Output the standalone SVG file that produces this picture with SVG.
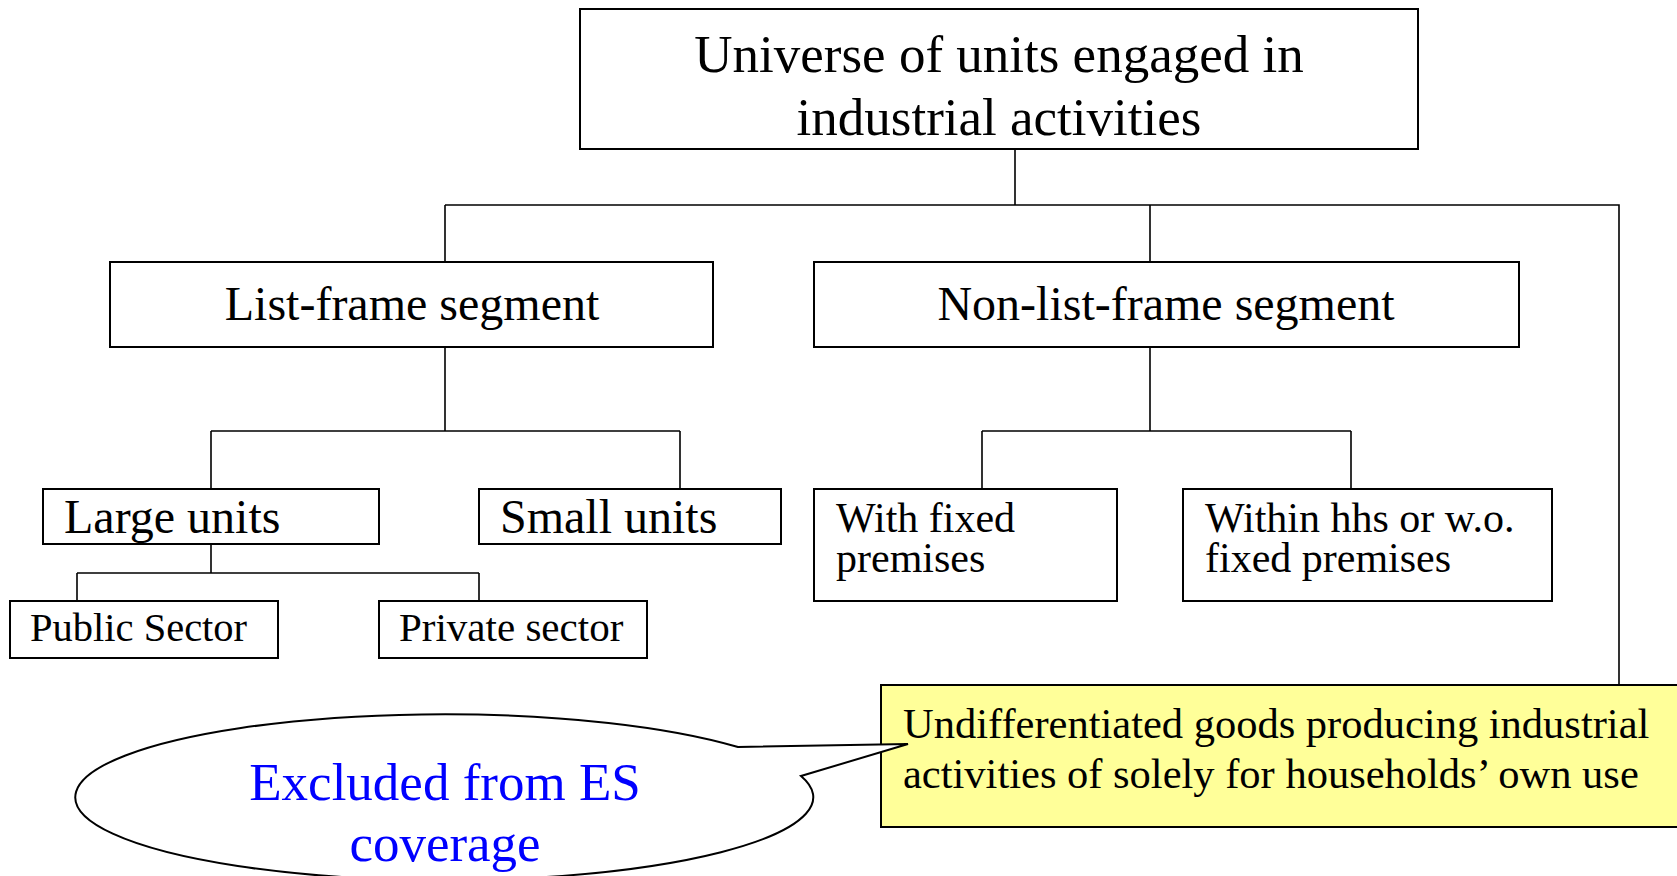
<svg xmlns="http://www.w3.org/2000/svg" width="1677" height="876" viewBox="0 0 1677 876">
<style>
.box{fill:#fff;stroke:#000;stroke-width:2}
.t{font-family:"Liberation Serif","Times New Roman",serif;fill:#000}
.c{text-anchor:middle}
.conn{fill:none;stroke:#000;stroke-width:1.6}
</style>
<rect width="1677" height="876" fill="#fff"/>
<g id="connectors">
<path class="conn" d="M1015 149V205M445 205H1619V685M445 205V262M1150 205V262"/>
<path class="conn" d="M445 347V431M211 431H680M211 431V489M680 431V489"/>
<path class="conn" d="M211 544V573M77 573H479M77 573V601M479 573V601"/>
<path class="conn" d="M1150 347V431M982 431H1351M982 431V489M1351 431V489"/>
</g>
<g id="universe">
<rect class="box" x="580" y="9" width="838" height="140"/>
<text class="t c" font-size="53"><tspan x="999" y="72">Universe of units engaged in</tspan><tspan x="999" y="135">industrial activities</tspan></text>
</g>
<g id="listframe">
<rect class="box" x="110" y="262" width="603" height="85"/>
<text class="t c" x="412" y="320" font-size="48">List-frame segment</text>
</g>
<g id="nonlistframe">
<rect class="box" x="814" y="262" width="705" height="85"/>
<text class="t c" x="1166" y="320" font-size="48">Non-list-frame segment</text>
</g>
<g id="large">
<rect class="box" x="43" y="489" width="336" height="55"/>
<text class="t" x="64" y="533" font-size="48">Large units</text>
</g>
<g id="small">
<rect class="box" x="479" y="489" width="302" height="55"/>
<text class="t" x="500" y="533" font-size="48">Small units</text>
</g>
<g id="public">
<rect class="box" x="10" y="601" width="268" height="57"/>
<text class="t" x="30" y="641" font-size="40.5">Public Sector</text>
</g>
<g id="private">
<rect class="box" x="379" y="601" width="268" height="57"/>
<text class="t" x="399" y="641" font-size="41">Private sector</text>
</g>
<g id="fixed">
<rect class="box" x="814" y="489" width="303" height="112"/>
<text class="t" font-size="42"><tspan x="836" y="532">With fixed</tspan><tspan x="836" y="572">premises</tspan></text>
</g>
<g id="within">
<rect class="box" x="1183" y="489" width="369" height="112"/>
<text class="t" font-size="42"><tspan x="1205" y="532">Within hhs or w.o.</tspan><tspan x="1205" y="572">fixed premises</tspan></text>
</g>
<g id="undiff">
<rect x="881" y="685" width="810" height="142" fill="#ffff99" stroke="#000" stroke-width="2"/>
<text class="t" font-size="42.5"><tspan x="903" y="738">Undifferentiated goods producing industrial</tspan><tspan x="903" y="788">activities of solely for households’ own use</tspan></text>
</g>
<g id="excluded">
<path d="M738 747L908 744L801 776A369 83 0 1 1 738 747Z" fill="#fff" stroke="#000" stroke-width="2"/>
<text class="t c" font-size="53" style="fill:#0000ff"><tspan x="445" y="800">Excluded from ES</tspan><tspan x="445" y="861">coverage</tspan></text>
</g>
</svg>
